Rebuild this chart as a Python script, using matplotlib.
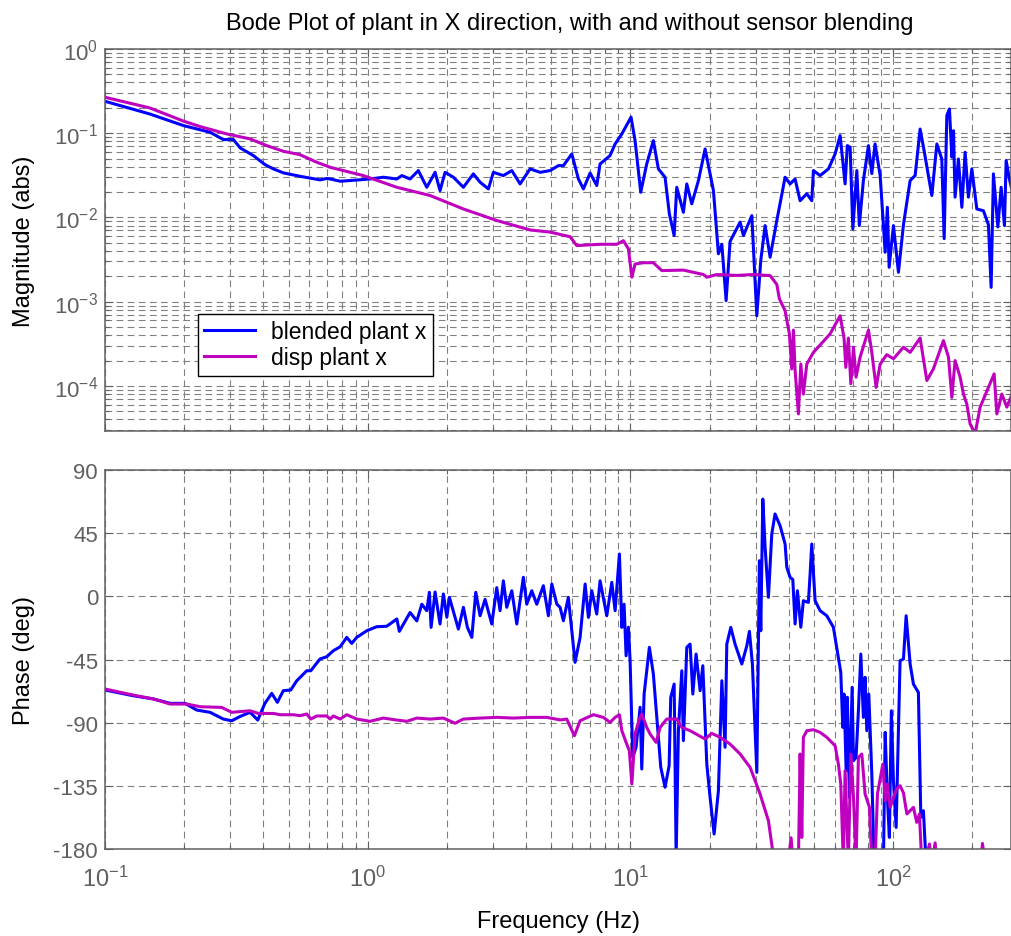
import numpy as np
from matplotlib import pyplot as plt
from matplotlib import ticker

# Magnitude of the blended plant, x direction
f_mag_blend = [0.1, 0.148, 0.199, 0.251, 0.282, 0.308, 0.327, 0.367, 0.406, 0.437,
               0.477, 0.552, 0.658, 0.698, 0.72, 0.785, 0.856, 1.02, 1.146, 1.29,
               1.348, 1.449, 1.558, 1.677, 1.804, 1.884, 1.969, 2.118, 2.312, 2.523,
               2.676, 2.878, 3.007, 3.282, 3.534, 3.8, 4.148, 4.529, 4.943, 5.316,
               5.554, 5.98, 6.336, 6.62, 7.02, 7.44, 7.66, 8.36, 8.74, 9.27,
               10.05, 10.41, 10.94, 11.53, 12.22, 12.77, 13.54, 14.06, 14.66, 15.0,
               15.9, 16.38, 17.11, 18.14, 19.23, 20.69, 21.61, 22.27, 23.12, 23.94,
               26.14, 26.91, 28.96, 30.26, 31.33, 32.54, 34.0, 36.06, 38.77, 40.5,
               42.32, 44.22, 46.9, 48.98, 49.7, 52.7, 56.7, 60.1, 62.8, 65.6,
               66.9, 68.55, 70.2, 72.7, 74.3, 77.0, 80.5, 82.9, 85.3, 89.2,
               93.2, 95.0, 96.5, 100.2, 104.7, 109.4, 116, 121.2, 126.6, 131.1,
               140.3, 146.6, 153.1, 156.3, 160, 163.7, 167.2, 169.6, 172, 177.1,
               182.5, 187.8, 193.3, 199.2, 208.1, 220.5, 230.4, 235.9, 240.7, 250.2,
               257.5, 265.1, 269.1, 276.9, 283.5]
mag_blend = [0.239, 0.169, 0.123, 0.1026, 0.084, 0.084, 0.0668, 0.0542, 0.0424, 0.0377,
             0.0338, 0.0308, 0.0279, 0.029, 0.0286, 0.0269, 0.0274, 0.0286, 0.030, 0.0286,
             0.0314, 0.0286, 0.036, 0.0228, 0.0343, 0.0208, 0.0343, 0.030, 0.0228, 0.0329,
             0.0262, 0.0218, 0.0343, 0.0314, 0.036, 0.025, 0.0377, 0.0343, 0.036, 0.0412,
             0.0412, 0.0567, 0.0286, 0.0218, 0.0337, 0.0239, 0.0431, 0.0542, 0.0745, 0.098,
             0.155, 0.0816, 0.0199, 0.0431, 0.0816, 0.0377, 0.030, 0.011, 0.0061, 0.0228,
             0.0115, 0.025, 0.0145, 0.0274, 0.065, 0.0208, 0.0037, 0.0048, 0.00103, 0.0052,
             0.0088, 0.0061, 0.0105, 0.00068, 0.0031, 0.008, 0.00337, 0.0092, 0.030, 0.025,
             0.0286, 0.0158, 0.0191, 0.0158, 0.036, 0.0314, 0.0377, 0.0567, 0.0936, 0.025,
             0.0712, 0.068, 0.0073, 0.036, 0.008, 0.0274, 0.0712, 0.0331, 0.0745, 0.0314,
             0.00386, 0.0132, 0.00256, 0.008, 0.00223, 0.0082, 0.0274, 0.0314, 0.112, 0.062,
             0.0182, 0.0745, 0.0494, 0.0056, 0.162, 0.194, 0.052, 0.107, 0.0174, 0.0494,
             0.0132, 0.0594, 0.0174, 0.0377, 0.0126, 0.012, 0.0082, 0.00148, 0.0329, 0.0077,
             0.0228, 0.008, 0.0473, 0.0286, 0.0208]

# Magnitude of the displacement-sensor plant
f_mag_disp = [0.1, 0.148, 0.199, 0.23, 0.2906, 0.3565, 0.4126, 0.477, 0.552, 0.6397,
              0.7188, 0.962, 1.29, 1.727, 2.312, 3.097, 4.148, 4.943, 5.89, 6.245,
              7.66, 8.87, 9.40, 9.82, 10.12, 10.41, 11.2, 12.22, 13.16, 15.9,
              18.95, 19.52, 21.31, 25.39, 29.38, 34.0, 36.06, 36.88, 38.77, 40.26,
              41.1, 41.7, 42.32, 43.57, 44.5, 45.5, 46.9, 49.7, 57.5, 62.8,
              65.0, 66.0, 67.5, 68.99, 70.6, 72.2, 74.8, 80.5, 82.9, 86.1,
              89.2, 94.5, 100.2, 109.4, 116, 126.6, 134.3, 142.2, 155.3, 162.3,
              167.2, 172, 179.8, 185.1, 190.6, 196.2, 205, 214.2, 230.4, 242.2,
              248, 259.1, 270.7, 283.5]
mag_disp = [0.267, 0.1995, 0.139, 0.12, 0.098, 0.0855, 0.0712, 0.061, 0.0556, 0.0452,
            0.0394, 0.0314, 0.0228, 0.0182, 0.0126, 0.0092, 0.0071, 0.0067, 0.0059, 0.00463,
            0.0048, 0.0048, 0.0053, 0.00423, 0.00195, 0.0028, 0.0029, 0.0029, 0.00234, 0.00237,
            0.0021, 0.00195, 0.0021, 0.00205, 0.0021, 0.00204, 0.0016, 0.00108, 0.00078, 0.000414,
            0.000159, 0.00046, 0.000155, 4.65e-5, 0.000182, 8.0e-5, 0.000182, 0.00025, 0.000414, 0.00068,
            0.00037, 0.000166, 0.00037, 0.000106, 0.000288, 0.000127, 0.000219, 0.00046, 0.00025, 9.6e-5,
            0.000182, 0.000235, 0.00021, 0.000288, 0.00025, 0.00037, 0.000116, 0.000159, 0.000345, 0.00022,
            7.3e-5, 0.0002, 0.000127, 8e-5, 6.1e-5, 3.54e-5, 2.7e-5, 5.6e-5, 9.6e-5, 0.000139,
            4.65e-5, 8e-5, 5.6e-5, 8e-5]

# Phase of the blended plant (deg)
f_ph_blend = [0.1, 0.128, 0.153, 0.177, 0.2016, 0.2234, 0.251, 0.282, 0.3036, 0.327,
              0.3565, 0.3813, 0.406, 0.431, 0.4529, 0.477, 0.5093, 0.5367, 0.5858, 0.6067,
              0.658, 0.698, 0.7398, 0.785, 0.832, 0.869, 0.908, 0.991, 1.082, 1.181,
              1.29, 1.319, 1.449, 1.537, 1.606, 1.677, 1.716, 1.742, 1.804, 1.884,
              1.94, 2.0, 2.045, 2.149, 2.213, 2.312, 2.394, 2.489, 2.577, 2.676,
              2.796, 2.965, 3.097, 3.188, 3.282, 3.381, 3.534, 3.692, 3.911, 4.029,
              4.21, 4.398, 4.66, 4.87, 5.018, 5.242, 5.395, 5.554, 5.8, 6.153,
              6.43, 6.72, 6.917, 7.124, 7.44, 7.66, 8.125, 8.489, 8.74, 9.075,
              9.27, 9.454, 9.622, 9.82, 9.966, 10.2, 10.5, 10.88, 11.04, 11.27,
              11.8, 12.22, 12.66, 13.04, 13.54, 14.03, 14.23, 14.66, 14.92, 15.22,
              15.68, 15.9, 16.38, 16.86, 17.27, 17.77, 18.41, 18.85, 19.52, 20.09,
              20.81, 21.61, 22.27, 22.91, 23.26, 24.09, 25.01, 26.53, 27.72, 28.36,
              29.11, 30.26, 30.96, 31.33, 31.89, 32.54, 33.5, 34.5, 35.5, 37.11,
              38.77, 39.36, 40.5, 41.48, 42.32, 43.19, 44.5, 45.5, 47.55, 48.27,
              48.98, 50.43, 52.7, 55.87, 59.2, 61.85, 63.16, 64.28, 65.0, 66.2,
              66.9, 68.1, 69.76, 70.6, 72.2, 73.71, 75.29, 77.0, 78.16, 79.34,
              80.74, 82.9, 84.6, 91.8, 93.2, 95.0, 96.7, 98.4, 100.2, 102.6,
              106.2, 109.4, 112, 116, 119.4, 124.7, 127.4, 130.3, 133.4]
ph_blend = [-66.7, -70.8, -73.1, -76.2, -76.2, -81, -82.6, -87.4, -88.6, -85.5,
            -82.6, -88.1, -76.2, -69.1, -75.5, -67.2, -66.7, -60.1, -53, -53,
            -44.6, -43, -38.7, -35.9, -29.2, -33.5, -29.2, -24.5, -21.6, -21.3,
            -16.1, -24.9, -11.5, -17.5, -5.6, -10.2, 2.9, -22.1, 3.1, -19.7,
            1.7, -14.9, -0.7, -14.9, -23.3, -7.8, -22, -29.2, 2.9, -13.8,
            -2.1, -19.7, 6.2, -10.2, 11.1, -7.8, 4, -19.7, 13.6, -5.6,
            4, -5.6, 7.6, -13.8, 8.8, -5.5, -7.8, -17.4, -0.7, -47,
            -29.2, 8.8, -15, 4, -12.6, 11.1, -13.8, 10, -10.2, 30.2,
            -22.1, -5.6, -42.3, -22, -45.9, -114.7, -107.5, -79, -123, -69.6,
            -36.3, -55.3, -91, -121.8, -136, -120.6, -72, -62.5, -185, -95.7,
            -53, -102.8, -36.3, -34, -69.6, -41.1, -67.2, -49.4, -119.5, -143.2,
            -169.3, -138.5, -60.1, -107.5, -34, -22.1, -34, -48.2, -35.2, -24.9,
            -48.2, -125.4, 25.4, -24.5, 69.3, 34.9, -0.7, 44.4, 58.7, 50.3,
            37.3, 20.7, 13.6, 12, -19.7, 4, -22, -3.1, -4.3, 15.9,
            37.3, -3.1, -10.2, -13.8, -22, -43.4, -54.1, -93.3, -69.6, -124.2,
            -71.9, -143.2, -64.8, -117.1, -114.7, -81.5, -41.1, -86.2, -57.7, -95.7,
            -69.6, -126.6, -190, -190, -96.9, -143, -171.7, -81.5, -131.3, -164.6,
            -45.9, -44.6, -13.8, -48.2, -62.5, -68.4, -157.4, -152.7, -190]

# Phase of the displacement-sensor plant (deg)
f_ph_disp = [0.1, 0.128, 0.153, 0.177, 0.2046, 0.23, 0.278, 0.3036, 0.3565, 0.3833,
             0.437, 0.4637, 0.5211, 0.552, 0.5858, 0.6067, 0.6397, 0.698, 0.7188, 0.7398,
             0.785, 0.832, 0.908, 1.02, 1.146, 1.29, 1.408, 1.537, 1.727, 1.94,
             2.149, 2.312, 2.676, 3.097, 3.584, 4.148, 4.8, 5.395, 5.72, 6.116,
             6.43, 7.225, 7.885, 8.36, 8.74, 9.075, 9.27, 9.622, 9.9, 10.12,
             10.41, 10.81, 11.04, 11.53, 11.87, 12.52, 12.97, 13.74, 15.0, 15.68,
             16.86, 19.23, 20.39, 21.93, 23.94, 26.14, 28.53, 31.14, 33.5, 35.0,
             39.8, 40.85, 41.6, 43.57, 44.22, 44.88, 45.5, 46.9, 49.7, 52.7,
             55.87, 60.1, 61.85, 63.16, 64.6, 65.6, 67.5, 68.99, 70.6, 72.2,
             73.71, 75.95, 78.16, 81.2, 82.9, 85.3, 87.1, 91.3, 93.2, 95.0,
             97.3, 100.2, 103.2, 106.2, 109.4, 112.7, 116, 119.4, 122.9, 125.8,
             128.5, 132.3, 137.4, 140.3, 144.4, 146.6, 216.1, 218.6, 223.9]
ph_disp = [-66, -70.3, -73.1, -76.7, -76.7, -78.6, -79.1, -82.6, -81.5, -83.4,
           -83.4, -84.3, -84.3, -85, -83.8, -87.4, -85.2, -85.2, -87.4, -85.2,
           -87.4, -84.3, -87.4, -89, -86.7, -88.1, -89, -86.7, -87.4, -86.7,
           -90.4, -87.4, -86.7, -86.2, -86.7, -86.2, -86.2, -88, -87.4, -99.3,
           -88.6, -84.3, -86.2, -89.8, -86.2, -84.3, -95.7, -104, -110, -133.7,
           -98, -87.4, -83.8, -93.3, -98, -104, -93.3, -87.4, -87.4, -93.3,
           -95.7, -101.6, -97.6, -100.4, -105.2, -112.3, -121.8, -140.8, -159.8, -185,
           -190, -172, -190, -190, -112.3, -171.7, -100.4, -95.7, -95, -96.9,
           -100.4, -106.4, -119.5, -133.7, -190, -124.2, -190, -112.3, -143.2, -190,
           -114.7, -112.3, -140.8, -150.3, -190, -190, -140.8, -119.5, -145.6, -133.7,
           -150.3, -143.2, -137, -134.9, -140, -155, -152.7, -150.3, -161, -155,
           -190, -190, -176.4, -190, -175.6, -190, -190, -176, -190]

series_labels = ["blended plant x", "disp plant x"]
phase_ticks = [-180, -135, -90, -45, 0, 45, 90]


def styleAxes(ax, minorY):
    grey = "#606060"
    dash = (0, (6, 4))
    ax.set_xscale("log")
    ax.set_xlim(0.1, 281)
    ax.grid(True, which="major", color="#808080", linestyle=dash, linewidth=0.8)
    ax.grid(True, which="minor", axis="x", color="#808080", linestyle=dash, linewidth=0.8)
    if minorY:
        ax.grid(True, which="minor", axis="y", color="#808080", linestyle=dash, linewidth=0.8)
    ax.xaxis.set_minor_formatter(ticker.NullFormatter())
    ax.yaxis.set_minor_formatter(ticker.NullFormatter())
    ax.tick_params(which="both", direction="in", top=True, right=True,
                   colors=grey, labelsize=16, width=0.8)
    ax.tick_params(which="major", length=6, pad=5)
    ax.tick_params(which="minor", length=3)
    for s in ax.spines.values():
        s.set_color(grey)
        s.set_linewidth(1.1)
    ax.set_axisbelow(True)


def main():
    plt.rcParams.update({
        "font.family": ["Liberation Sans", "DejaVu Sans"],
        "mathtext.fontset": "custom",
        "mathtext.rm": "Liberation Sans",
        "mathtext.it": "Liberation Sans:italic",
        "mathtext.bf": "Liberation Sans:bold",
        "axes.unicode_minus": False,
    })

    fig = plt.figure(figsize=(10.12, 9.37), dpi=100)
    axMag = fig.add_axes([0.1038, 0.539, 0.8953, 0.4077])
    axPh = fig.add_axes([0.1038, 0.0928, 0.8953, 0.4045])

    blue = "#0000ff"
    mag = "#bf00bf"
    lw = 2.2

    # magnitude
    axMag.plot(f_mag_blend, mag_blend, color=blue, linewidth=lw, label=series_labels[0])
    axMag.plot(f_mag_disp, mag_disp, color=mag, linewidth=lw, label=series_labels[1])
    axMag.set_yscale("log")
    axMag.set_ylim(2.92e-5, 1)
    styleAxes(axMag, True)
    axMag.yaxis.set_major_locator(ticker.LogLocator(base=10, numticks=10))
    axMag.yaxis.set_minor_locator(ticker.LogLocator(base=10, subs=np.arange(2, 10), numticks=20))
    axMag.tick_params(labelbottom=False)
    axMag.set_ylabel("Magnitude (abs)", fontsize=17)
    axMag.yaxis.set_label_coords(-0.077, 0.5)

    leg = axMag.legend(loc="upper left", bbox_to_anchor=(0.1026, 0.306), borderaxespad=0,
                       fontsize=16.5, fancybox=False, edgecolor="black", framealpha=1,
                       handlelength=2.2, handletextpad=0.7, labelspacing=0.12, borderpad=0.28)
    leg.get_frame().set_linewidth(1.0)

    # phase
    axPh.plot(f_ph_blend, ph_blend, color=blue, linewidth=lw)
    axPh.plot(f_ph_disp, ph_disp, color=mag, linewidth=lw)
    axPh.set_ylim(-180, 90)
    styleAxes(axPh, False)
    axPh.set_yticks(phase_ticks)
    axPh.tick_params(axis="x", which="major", pad=12, labelsize=17)
    axPh.set_ylabel("Phase (deg)", fontsize=17)
    axPh.yaxis.set_label_coords(-0.077, 0.5)
    axPh.set_xlabel("Frequency (Hz)", fontsize=17)
    axPh.xaxis.set_label_coords(0.5, -0.161)

    fig.text(0.563, 0.968, "Bode Plot of plant in X direction, with and without sensor blending",
             ha="center", va="baseline", fontsize=17)

    fig.savefig("out.png", dpi=100)


if __name__ == '__main__':
    main()
